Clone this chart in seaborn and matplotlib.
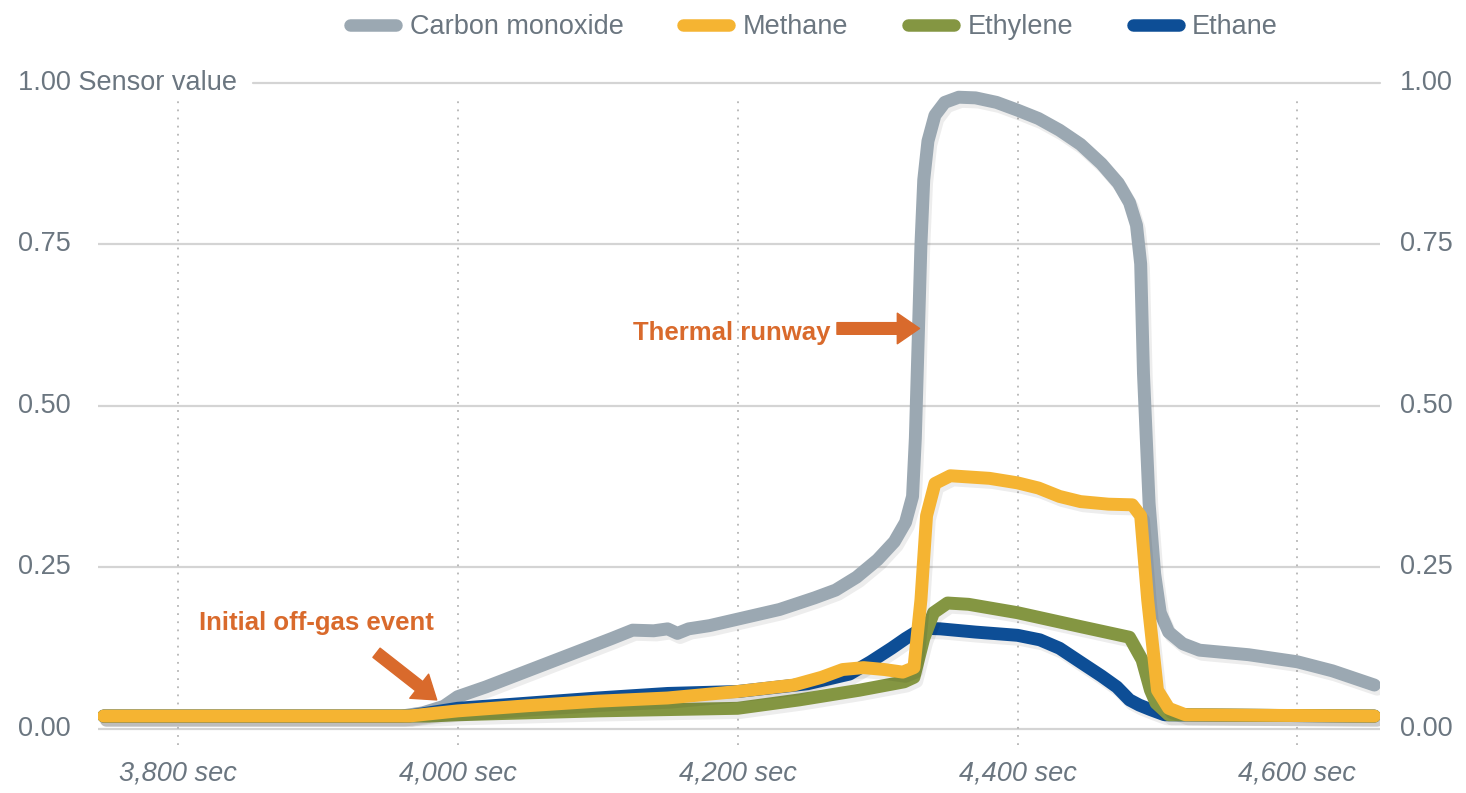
import pandas as pd
import numpy as np
import seaborn as sns
import matplotlib.pyplot as plt
import matplotlib.patheffects as pe
from matplotlib.lines import Line2D
from matplotlib.transforms import blended_transform_factory

# values
co_sec = [3747, 3960, 3975, 3990, 4000, 4020, 4050, 4080, 4110, 4125, 4140, 4150, 4157, 4165, 4180,
          4200, 4230, 4255, 4270, 4285, 4300, 4312, 4320, 4325, 4327, 4329, 4331, 4333, 4336, 4341,
          4348, 4358, 4370, 4385, 4400, 4415, 4430, 4445, 4460, 4472, 4480, 4485, 4488, 4490, 4494,
          4498, 4502, 4508, 4518, 4530, 4565, 4600, 4625, 4655]
co_val = [0.02, 0.02, 0.025, 0.035, 0.05, 0.065, 0.09, 0.115, 0.14, 0.153, 0.152, 0.155, 0.148, 0.155, 0.16,
          0.17, 0.185, 0.203, 0.215, 0.235, 0.262, 0.29, 0.32, 0.36, 0.45, 0.6, 0.75, 0.85, 0.91, 0.95,
          0.97, 0.978, 0.977, 0.97, 0.958, 0.945, 0.927, 0.905, 0.875, 0.845, 0.815, 0.78, 0.72, 0.55, 0.35,
          0.24, 0.18, 0.15, 0.132, 0.122, 0.115, 0.104, 0.09, 0.068]

ch4_sec = [3747, 3965, 4000, 4050, 4100, 4150, 4200, 4240, 4260, 4275, 4290, 4305, 4318, 4326, 4331,
           4335, 4341, 4352, 4380, 4400, 4415, 4430, 4445, 4465, 4482, 4488, 4493, 4500, 4508, 4520, 4655]
ch4_val = [0.02, 0.02, 0.028, 0.036, 0.043, 0.048, 0.058, 0.068, 0.08, 0.092, 0.095, 0.092, 0.088, 0.095, 0.2,
           0.33, 0.38, 0.392, 0.388, 0.381, 0.373, 0.36, 0.352, 0.348, 0.347, 0.33, 0.2, 0.06, 0.032, 0.022, 0.02]

c2h4_sec = [3747, 3980, 4000, 4100, 4200, 4244, 4287, 4319, 4326, 4333, 4340, 4350, 4365, 4400, 4446,
            4480, 4489, 4495, 4499, 4508, 4655]
c2h4_val = [0.02, 0.02, 0.022, 0.028, 0.032, 0.045, 0.06, 0.073, 0.08, 0.14, 0.18, 0.195, 0.193, 0.18, 0.158,
            0.142, 0.107, 0.06, 0.04, 0.022, 0.02]

c2h6_sec = [3747, 3965, 4000, 4050, 4100, 4150, 4200, 4250, 4280, 4295, 4310, 4320, 4332, 4345, 4370,
            4400, 4416, 4430, 4446, 4460, 4471, 4480, 4487, 4495, 4505, 4655]
c2h6_val = [0.02, 0.02, 0.032, 0.04, 0.048, 0.055, 0.058, 0.07, 0.085, 0.104, 0.125, 0.14, 0.156, 0.155, 0.15,
            0.145, 0.138, 0.125, 0.102, 0.082, 0.065, 0.045, 0.037, 0.03, 0.022, 0.02]

gases = ['Carbon monoxide', 'Methane', 'Ethylene', 'Ethane']
colors = {'Carbon monoxide': '#9ba8b2', 'Methane': '#f5b432', 'Ethylene': '#849642', 'Ethane': '#0d4e96'}
draw_order = ['Carbon monoxide', 'Ethane', 'Ethylene', 'Methane']

x_ticks = [3800, 4000, 4200, 4400, 4600]
x_labels = ['3,800 sec', '4,000 sec', '4,200 sec', '4,400 sec', '4,600 sec']
y_ticks = [0.0, 0.25, 0.5, 0.75, 1.0]
y_labels = ['0.00', '0.25', '0.50', '0.75', '1.00']

df = pd.concat([
    pd.DataFrame({'sec': co_sec, 'value': co_val, 'gas': 'Carbon monoxide'}),
    pd.DataFrame({'sec': ch4_sec, 'value': ch4_val, 'gas': 'Methane'}),
    pd.DataFrame({'sec': c2h4_sec, 'value': c2h4_val, 'gas': 'Ethylene'}),
    pd.DataFrame({'sec': c2h6_sec, 'value': c2h6_val, 'gas': 'Ethane'}),
])

sns.set_style('white')
plt.rcParams['font.family'] = ['Liberation Sans', 'DejaVu Sans']
txt_color = '#6b7680'
orange = '#d96a2c'
fs = 19.5

fig = plt.figure(figsize=(14.66, 7.93), dpi=100)
W, H = 1466, 793
ax = fig.add_axes([98 / W, (H - 745) / H, (1380 - 98) / W, (745 - 83) / H])
ax.set_xlim(3743, 4659)
ax.set_ylim(-0.0248, 1.0)

# grid
for yt in y_ticks[:-1]:
    ax.axhline(yt, color='#d4d4d4', lw=1.6, zorder=0)
ax.axhline(1.0, xmin=0.121, xmax=1, color='#d4d4d4', lw=1.6, zorder=0, clip_on=False)
ax.vlines(x_ticks, -0.025, 0.972, colors='#b5b5b5', linestyles=(0, (1, 3.5)), lw=1.3, zorder=0)

shadow = [pe.SimpleLineShadow(offset=(2, -3), shadow_color='k', alpha=0.07), pe.Normal()]
sns.lineplot(data=df, x='sec', y='value', hue='gas', hue_order=draw_order, palette=colors,
             lw=9.3, legend=False, sort=False, estimator=None, ax=ax,
             solid_capstyle='round', solid_joinstyle='round', path_effects=shadow)

for s in ax.spines.values():
    s.set_visible(False)
ax.set_xlabel('')
ax.set_ylabel('')
ax.set_yticks([])
ax.set_xticks(x_ticks)
ax.set_xticklabels(x_labels, fontsize=fs, style='italic', color=txt_color)
ax.tick_params(axis='x', length=0, pad=11)

# y labels on both sides
left_tr = blended_transform_factory(fig.transFigure, ax.transData)
for yt, lab in zip(y_ticks, y_labels):
    left_lab = lab + ' Sensor value' if yt == 1.0 else lab
    ax.text(18 / W, yt, left_lab, transform=left_tr, ha='left', va='center', fontsize=fs, color=txt_color)
    ax.text(1400 / W, yt, lab, transform=left_tr, ha='left', va='center', fontsize=fs, color=txt_color)

# annotations
arrow = dict(arrowstyle='simple,head_length=0.8,head_width=1.1,tail_width=0.42',
             color=orange, mutation_scale=20, shrinkA=0, shrinkB=0)
ax.annotate('', xy=(4330, 0.62), xytext=(4271, 0.62), arrowprops=arrow)
ax.text(4196, 0.602, 'Thermal runway', ha='center', va='baseline', fontsize=18.5,
        fontweight='bold', color=orange)
ax.annotate('', xy=(3985, 0.045), xytext=(3942, 0.118), arrowprops=arrow)
ax.text(3899, 0.153, 'Initial off-gas event', ha='center', va='baseline', fontsize=18.5,
        fontweight='bold', color=orange)

# legend
handles = [Line2D([], [], color=colors[g], lw=9, solid_capstyle='round') for g in gases]
fig.legend(handles, gases, loc='center', bbox_to_anchor=(814 / W, 1 - 27 / H), ncol=4,
           frameon=False, fontsize=fs, labelcolor=txt_color, handlelength=1.7,
           handletextpad=0.5, columnspacing=2.2)

fig.savefig('out.png', dpi=100, facecolor='white')
